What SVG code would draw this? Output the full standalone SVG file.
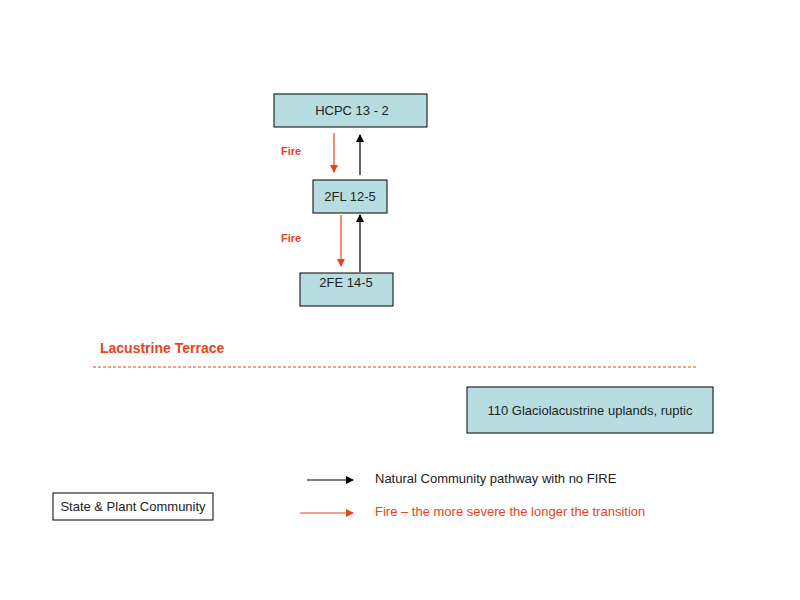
<svg xmlns="http://www.w3.org/2000/svg" width="800" height="600" viewBox="0 0 800 600">
<style>
.n{fill:#b7dde1;stroke:#000;stroke-width:1}
text{font-family:"Liberation Sans",Arial,sans-serif;font-size:13px;fill:#222}
.c{text-anchor:middle}
.f{fill:#e8431c}
.b{stroke:#000;stroke-width:1.2;fill:none}
.r{stroke:#e8431c;stroke-width:1.2;fill:none}
</style>
<defs>
<marker id="ab" markerWidth="8" markerHeight="8" refX="7" refY="4" orient="auto" markerUnits="userSpaceOnUse"><path d="M0,0L8,4L0,8z" fill="#000"/></marker>
<marker id="ar" markerWidth="8" markerHeight="8" refX="7" refY="4" orient="auto" markerUnits="userSpaceOnUse"><path d="M0,0L8,4L0,8z" fill="#e8431c"/></marker>
</defs>
<rect width="800" height="600" fill="#fff"/>
<g id="hcpc"><rect class="n" x="274" y="94" width="153" height="33"/><text class="c" x="352" y="115">HCPC 13 - 2</text></g>
<g id="fl"><rect class="n" x="313" y="180" width="74" height="33"/><text class="c" x="350" y="201">2FL 12-5</text></g>
<g id="fe"><rect class="n" x="300" y="273" width="93" height="33"/><text class="c" x="346" y="287">2FE 14-5</text></g>
<g id="glacio"><rect class="n" x="467" y="387" width="246" height="46"/><text class="c" x="590" y="415">110 Glaciolacustrine uplands, ruptic</text></g>
<g id="legendbox"><rect x="53" y="493" width="160" height="27" fill="#fff" stroke="#000"/><text class="c" x="133" y="511">State &amp; Plant Community</text></g>
<g id="connectors">
<line class="r" x1="334" y1="133" x2="334" y2="172" marker-end="url(#ar)"/>
<line class="b" x1="360" y1="175" x2="360" y2="135" marker-end="url(#ab)"/>
<line class="r" x1="341" y1="215" x2="341" y2="266" marker-end="url(#ar)"/>
<line class="b" x1="360" y1="272" x2="360" y2="215" marker-end="url(#ab)"/>
<line x1="93" y1="367" x2="698" y2="367" stroke="#e8431c" stroke-dasharray="3,2" stroke-width="1"/>
<line class="b" x1="307" y1="480" x2="353" y2="480" marker-end="url(#ab)"/>
<line class="r" x1="300" y1="513" x2="353" y2="513" marker-end="url(#ar)"/>
</g>
<text class="f" x="281" y="155" font-weight="bold" style="font-size:11px">Fire</text>
<text class="f" x="281" y="242" font-weight="bold" style="font-size:11px">Fire</text>
<text class="f" x="100" y="353" font-weight="bold" style="font-size:14px">Lacustrine Terrace</text>
<text x="375" y="483">Natural Community pathway with no FIRE</text>
<text class="f" x="375" y="516">Fire – the more severe the longer the transition</text>
</svg>
